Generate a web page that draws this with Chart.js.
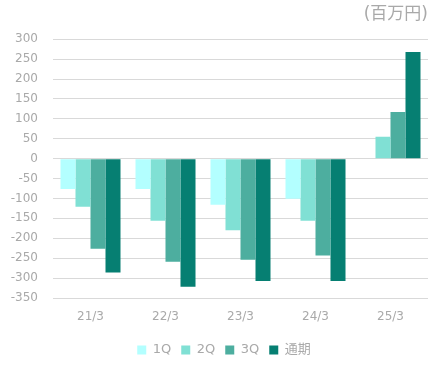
<!DOCTYPE html>
<html>
<head>
<meta charset="utf-8">
<script src="https://cdn.jsdelivr.net/npm/chart.js@4"></script>
<style>
  html, body { margin: 0; padding: 0; background: #fff; }
  #wrap { width: 438px; height: 373px; }
</style>
</head>
<body>
<div id="wrap"><canvas id="chart" width="438" height="373"></canvas></div>
<script>
const labels = ["21/3", "22/3", "23/3", "24/3", "25/3"];
const q1 = [-76, -76, -116, -101, null];
const q2 = [-121, -156, -180, -156, 55];
const q3 = [-226, -259, -254, -243, 117];
const full = [-286, -322, -307, -307, 268];
const unitLabel = "(百万円)";

const fontFamily = '"DejaVu Sans", "Noto Sans CJK JP", sans-serif';
const textColor = "#a9a9a9";

const data = {
    labels: labels,
    datasets: [
        { label: "1Q", data: q1, backgroundColor: "#b3ffff" },
        { label: "2Q", data: q2, backgroundColor: "#80e0d4" },
        { label: "3Q", data: q3, backgroundColor: "#4dae9f" },
        { label: "通期", data: full, backgroundColor: "#067f72" }
    ]
};

// the original legend sits a little right of the canvas centre
const legendShift = {
    id: "legendShift",
    afterLayout(chart) {
        chart.legend.left += 7.5;
        chart.legend.right += 7.5;
    }
};

new Chart(document.getElementById("chart"), {
    type: "bar",
    data: data,
    plugins: [legendShift],
    options: {
        responsive: false,
        animation: false,
        layout: { padding: { left: 5, right: 10, top: 4, bottom: 6.5 } },
        datasets: {
            bar: { categoryPercentage: 0.8, barPercentage: 1.0 }
        },
        scales: {
            x: {
                grid: { display: false, drawTicks: false },
                border: { display: false },
                ticks: { color: textColor, font: { family: fontFamily, size: 12 }, padding: 12 },
                afterFit: s => { s.height = 35.5; }
            },
            y: {
                min: -350,
                max: 300,
                grid: { color: "#d9d9d9", drawTicks: false, lineWidth: 1 },
                border: { display: false },
                ticks: {
                    stepSize: 50,
                    color: textColor,
                    padding: 15,
                    font: { family: fontFamily, size: 12 }
                },
                afterFit: s => { s.width = 48; }
            }
        },
        plugins: {
            title: {
                display: true,
                text: unitLabel,
                align: "end",
                color: textColor,
                font: { family: fontFamily, size: 17, weight: "normal" },
                padding: { top: 0, bottom: 14.8 }
            },
            legend: {
                position: "bottom",
                labels: {
                    color: textColor,
                    boxWidth: 9,
                    boxHeight: 9,
                    padding: 10,
                    font: { family: fontFamily, size: 13 }
                }
            },
            tooltip: { enabled: false }
        }
    }
});
</script>
</body>
</html>
